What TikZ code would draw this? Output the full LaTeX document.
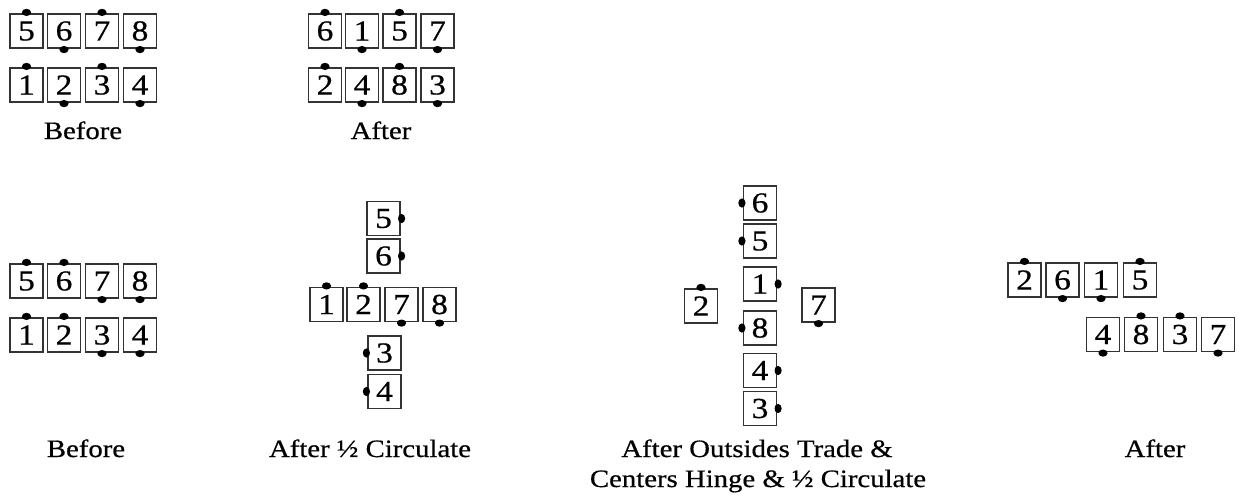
\documentclass[tikz,border=0pt]{standalone}
\usepackage{fontspec}
\setmainfont{Liberation Serif}[FakeStretch=1.15,FakeBold=0.6]
\tikzset{
  dancer/.style={draw=black!80, line width=1.2pt, minimum width=33pt, minimum height=34pt, inner sep=0pt, font=\fontsize{29}{29}\selectfont},
  lbl/.style={font=\fontsize{25}{29}\selectfont, anchor=base},
  nose/.style={fill=black}
}
\newcommand\nosen[1]{\fill[nose] ([yshift=1pt]#1.north) ellipse (4.6pt and 3.6pt);}
\newcommand\noses[1]{\fill[nose] ([yshift=-1pt]#1.south) ellipse (4.6pt and 3.6pt);}
\newcommand\nosee[1]{\fill[nose] ([xshift=1pt]#1.east) ellipse (3.6pt and 4.6pt);}
\newcommand\nosew[1]{\fill[nose] ([xshift=-1pt]#1.west) ellipse (3.6pt and 4.6pt);}
\newcommand\dancer[5]{%
  \node[dancer] (#1) at (#2,#3) {#4};
  \csname nose#5\endcsname{#1}%
}
\begin{document}
\begin{tikzpicture}[x=1pt,y=-1pt]
\useasboundingbox (0,0) rectangle (1239,496);
% top Before
\dancer{tb5}{26.5}{31}{5}{n}
\dancer{tb6}{64}{31}{6}{s}
\dancer{tb7}{102}{31}{7}{n}
\dancer{tb8}{140}{31}{8}{s}
\dancer{tb1}{26.5}{85}{1}{n}
\dancer{tb2}{64}{85}{2}{s}
\dancer{tb3}{102}{85}{3}{n}
\dancer{tb4}{140}{85}{4}{s}
\node[lbl] (tbl) at (83,139) {Before};
% top After
\dancer{ta6}{325}{31}{6}{n}
\dancer{ta1}{362}{31}{1}{s}
\dancer{ta5}{399.5}{31}{5}{n}
\dancer{ta7}{437.5}{31}{7}{s}
\dancer{ta2}{325}{85}{2}{n}
\dancer{ta4}{362}{85}{4}{s}
\dancer{ta8}{399.5}{85}{8}{n}
\dancer{ta3}{437.5}{85}{3}{s}
\node[lbl] (tal) at (381,139) {After};
% bottom Before
\dancer{bb5}{26.5}{281}{5}{n}
\dancer{bb6}{64}{281}{6}{n}
\dancer{bb7}{102}{281}{7}{s}
\dancer{bb8}{140}{281}{8}{s}
\dancer{bb1}{26.5}{335}{1}{n}
\dancer{bb2}{64}{335}{2}{n}
\dancer{bb3}{102}{335}{3}{s}
\dancer{bb4}{140}{335}{4}{s}
\node[lbl] (bbl) at (86,457) {Before};
% After 1/2 Circulate
\dancer{hc5}{383.5}{218.5}{5}{e}
\dancer{hc6}{383.5}{256}{6}{e}
\dancer{hc1}{326.5}{304.5}{1}{n}
\dancer{hc2}{363.5}{304.5}{2}{n}
\dancer{hc7}{401.5}{304.5}{7}{s}
\dancer{hc8}{439.5}{304.5}{8}{s}
\dancer{hc3}{384.5}{353}{3}{w}
\dancer{hc4}{384.5}{391.5}{4}{w}
\node[lbl] (hcl) at (370,457) {After ½ Circulate};
% After Outsides Trade
\dancer{ot6}{760}{203}{6}{w}
\dancer{ot5}{760}{241}{5}{w}
\dancer{ot1}{760}{284}{1}{e}
\dancer{ot8}{760}{328}{8}{w}
\dancer{ot4}{760}{370.5}{4}{e}
\dancer{ot3}{760}{408.5}{3}{e}
\dancer{ot2}{701}{306}{2}{n}
\dancer{ot7}{818.5}{305}{7}{s}
\node[lbl] (otl1) at (757,457) {After Outsides Trade \&};
\node[lbl] (otl2) at (758,487) {Centers Hinge \& ½ Circulate};
% final After
\dancer{fa2}{1024.5}{280}{2}{n}
\dancer{fa6}{1062.5}{280}{6}{s}
\dancer{fa1}{1101}{280}{1}{s}
\dancer{fa5}{1140}{280}{5}{n}
\dancer{fa4}{1103}{334.5}{4}{s}
\dancer{fa8}{1141}{334.5}{8}{n}
\dancer{fa3}{1180}{334.5}{3}{n}
\dancer{fa7}{1218}{334.5}{7}{s}
\node[lbl] (fal) at (1155,457) {After};
\end{tikzpicture}
\end{document}
